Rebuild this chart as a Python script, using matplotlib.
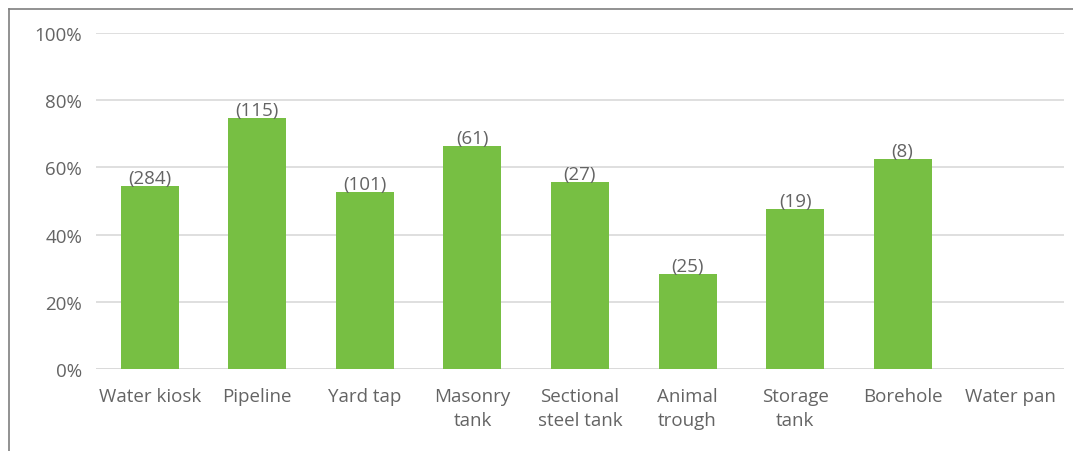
import numpy as np
import matplotlib.pyplot as plt
from matplotlib.lines import Line2D

# Datos
categorias = ['Water kiosk', 'Pipeline', 'Yard tap', 'Masonry\ntank', 'Sectional\nsteel tank',
              'Animal\ntrough', 'Storage\ntank', 'Borehole', 'Water pan']
porcentajes = [54.5, 74.7, 52.7, 66.4, 55.7, 28.3, 47.6, 62.5, 0]
conteos = ['(284)', '(115)', '(101)', '(61)', '(27)', '(25)', '(19)', '(8)', '']

plt.rcParams['font.family'] = ['Open Sans', 'DejaVu Sans']
gris = '#646464'

fig = plt.figure(figsize=(10.73, 4.52), dpi=100)
ax = fig.add_axes([96 / 1073, 1 - 370 / 452, 968 / 1073, 336 / 452])

x = np.arange(len(categorias))
barras = ax.bar(x, porcentajes, width=0.54, color='#77bf43', zorder=3)

# Etiquetas de conteo sobre cada barra
for xi, v, c in zip(x, porcentajes, conteos):
    if c:
        ax.text(xi, v - 0.4, c, ha='center', va='bottom', fontsize=13.5, color=gris, zorder=4)

ax.set_xlim(-0.5, len(categorias) - 0.5)
ax.set_ylim(0, 100)
ax.set_yticks(np.arange(0, 101, 20))
ax.set_yticklabels([f'{v}%' for v in range(0, 101, 20)])
ax.set_xticks(x)
ax.set_xticklabels(categorias, linespacing=1.45)
ax.tick_params(axis='both', length=0, labelsize=13.5, labelcolor=gris)
ax.tick_params(axis='y', pad=10)
ax.tick_params(axis='x', pad=13)
ax.grid(axis='y', color='#d9d9d9', linewidth=1.2, zorder=0)
for s in ax.spines.values():
    s.set_visible(False)
ax.axhline(0, color='#d9d9d9', linewidth=1.2, zorder=2)

# Marco (solo arriba e izquierda, imagen recortada)
fig.add_artist(Line2D([9 / 1073, 9 / 1073], [0, 1 - 10 / 452], color='#7f7f7f', lw=1.2))
fig.add_artist(Line2D([9 / 1073, 1], [1 - 10 / 452, 1 - 10 / 452], color='#7f7f7f', lw=1.2))

fig.savefig('out.png', dpi=100)
